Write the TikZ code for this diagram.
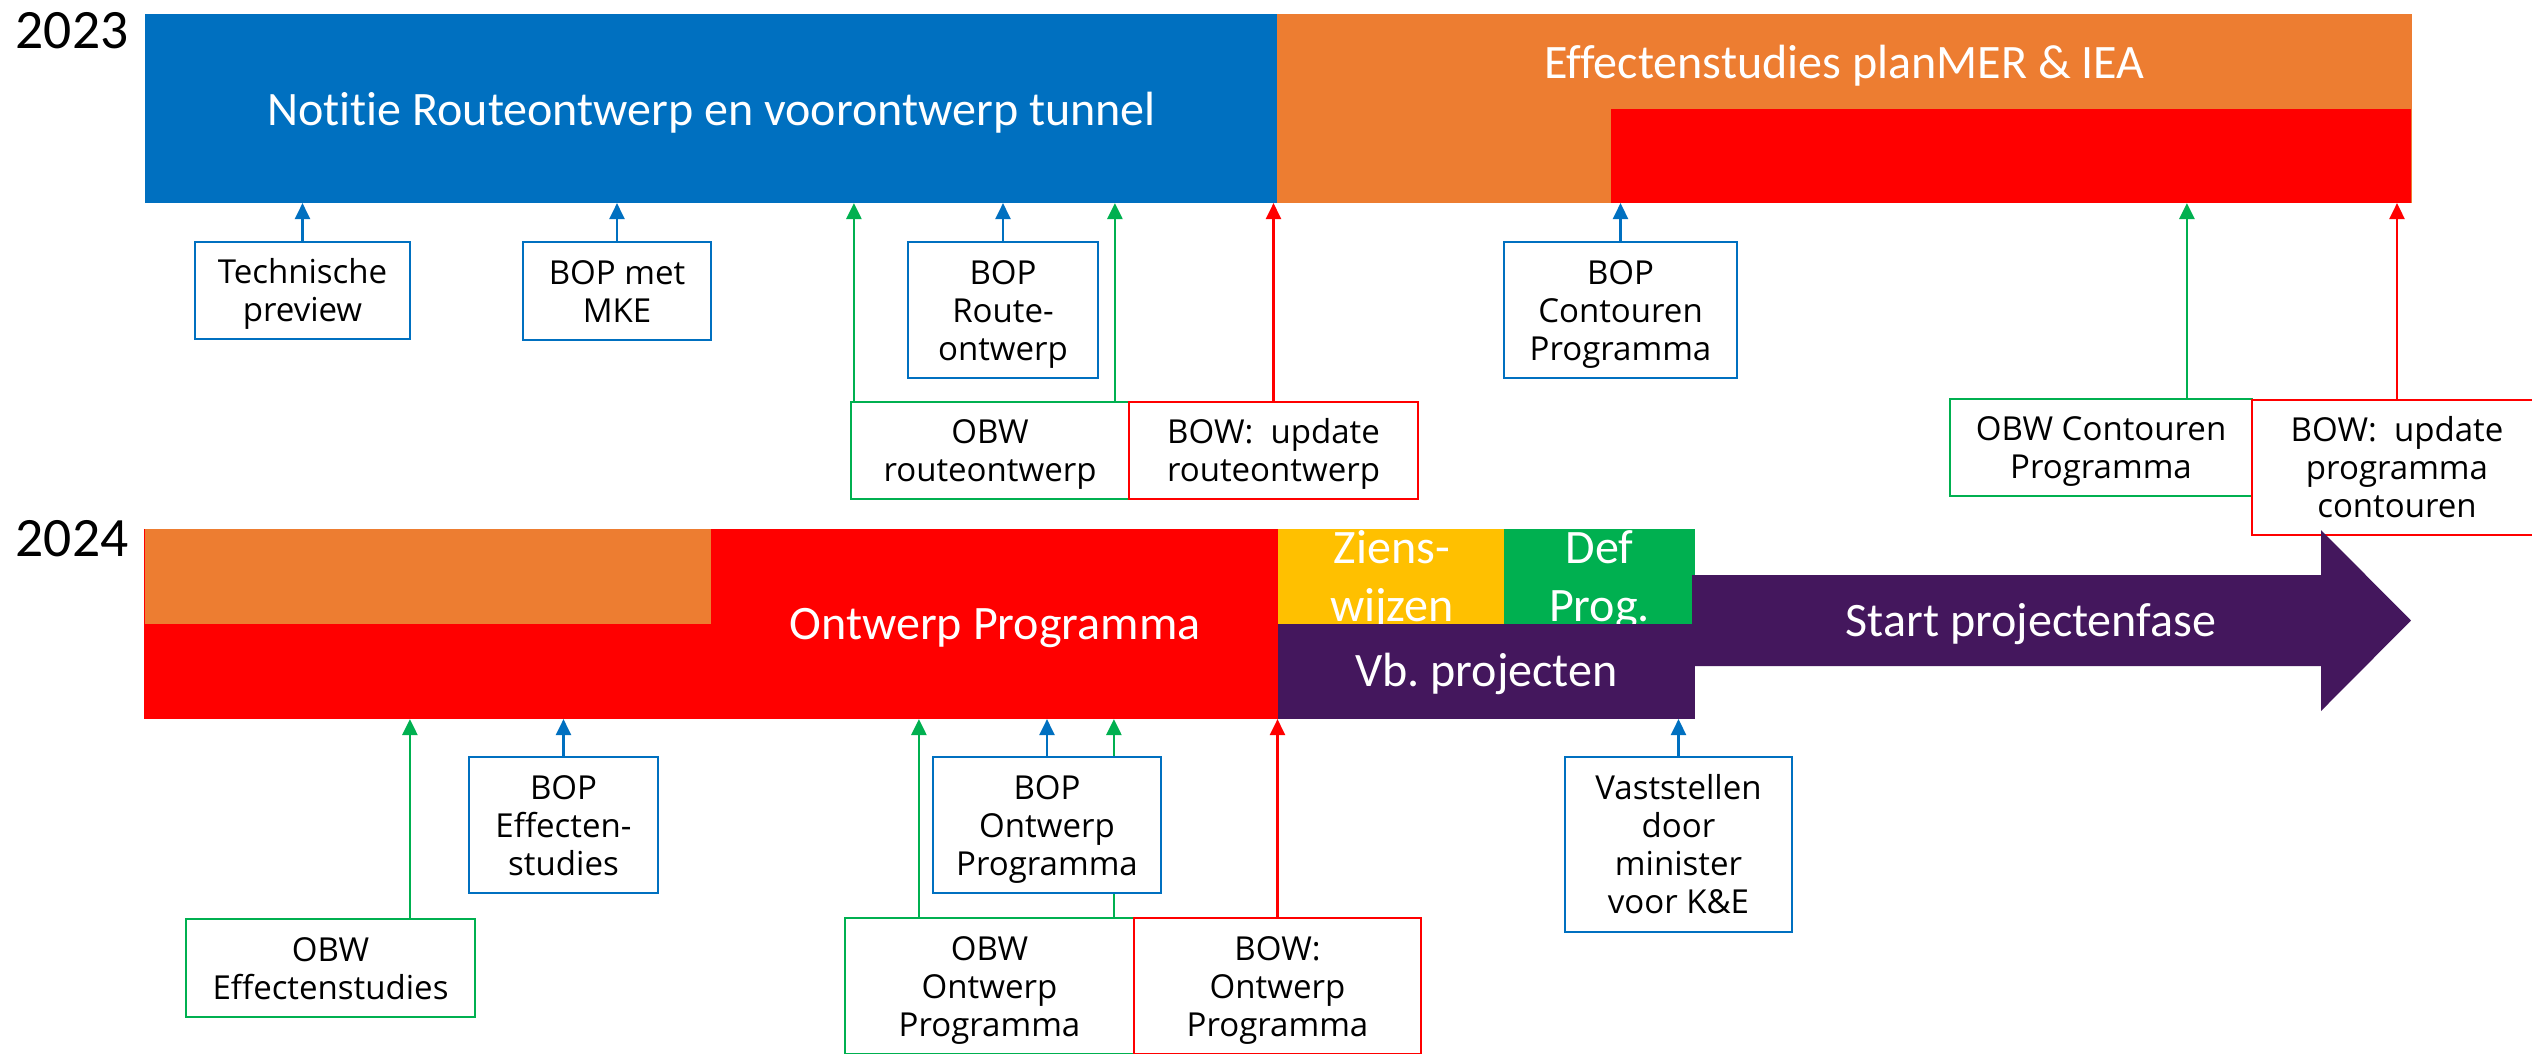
\documentclass[tikz,border=0pt]{standalone}
\usepackage{fontspec}
\setmainfont{Open Sans}
\newfontfamily\barfont{Carlito}[Ligatures=NoCommon]
\newfontfamily\boxfont{Open Sans}[Ligatures=NoCommon]
\usetikzlibrary{arrows.meta,calc}
\definecolor{cblue}{HTML}{0070C0}
\definecolor{corange}{HTML}{ED7D31}
\definecolor{cred}{HTML}{FF0000}
\definecolor{cyellow}{HTML}{FFC000}
\definecolor{cgreen}{HTML}{00B050}
\definecolor{cpurple}{HTML}{44175D}
\newcommand\boxfnt{\boxfont\fontsize{9.39pt}{10.81pt}\selectfont}
\newcommand\barfnt{\barfont\fontsize{13.66pt}{16.67pt}\selectfont}
\newcommand\yearfnt{\barfont\fontsize{15.8pt}{18pt}\selectfont}
\newcommand\ftop{\vrule height 0.32cm depth 0pt width 0pt\relax}
\newcommand\lbot{\vrule height 0pt depth 0.08cm width 0pt\relax}
\frenchspacing
\pgfdeclarelayer{paper}
\pgfdeclarelayer{links}
\pgfsetlayers{paper,links,main}
\begin{document}
\begin{tikzpicture}[x=0.01cm,y=-0.01cm,
  bar/.style={draw=none,inner sep=0pt,outer sep=0pt},
  bartext/.style={font=\barfnt,text=white,inner sep=0pt,anchor=base},
  year/.style={font=\yearfnt,text=black,inner sep=0pt,anchor=base west},
  box/.style={draw,fill=white,line width=0.025cm,align=center,font=\boxfnt,text=black,inner sep=0pt,outer sep=0pt},
  bluebox/.style={box,draw=cblue},
  greenbox/.style={box,draw=cgreen},
  redbox/.style={box,draw=cred},
  link/.style={line width=0.025cm,-{Triangle[length=0.16cm,width=0.15cm]}},
]
\useasboundingbox (0,0) rectangle (2532,1053);
\begin{pgfonlayer}{paper}
\fill[white] (0,0) rectangle (2532,1053);
\end{pgfonlayer}
\clip (0,0) rectangle (2532,1053);

% ---- 2023 bar ----
\node[bar,fill=cblue,minimum width=11.33cm,minimum height=1.89cm] (b1blue) at (711.5,108.5) {};
\node[bar,fill=corange,minimum width=11.35cm,minimum height=1.89cm] (b1orange) at (1844.5,108.5) {};
\node[bar,fill=cred,minimum width=8cm,minimum height=0.94cm] (b1red) at (2011,156) {};
\node[bartext] (t1a) at (711.5,125) {Notitie Routeontwerp en voorontwerp tunnel};
\node[bartext] (t1b) at (1844.5,78) {Effectenstudies planMER \& IEA};

% ---- 2024 bar ----
\node[bar,fill=cred,minimum width=11.36cm,minimum height=1.9cm] (b2red) at (712,624) {};
\node[bar,fill=corange,minimum width=5.66cm,minimum height=0.95cm] (b2orange) at (428,576.5) {};
\node[bartext] (t2a) at (995,639) {Ontwerp Programma};
\node[bar,fill=cyellow,minimum width=2.27cm,minimum height=0.95cm] (b2yellow) at (1392,576.5) {};
\node[bar,fill=cgreen,minimum width=1.9cm,minimum height=0.95cm] (b2green) at (1599.5,576.5) {};
\node[bartext] (t2z1) at (1392,563) {Ziens-};
\node[bartext] (t2z2) at (1392,621.6) {wijzen};
\node[bartext] (t2d1) at (1599.5,563) {Def};
\node[bartext] (t2d2) at (1599.5,621.6) {Prog.};
\node[bar,fill=cpurple,minimum width=4.16cm,minimum height=0.95cm] (b2purple) at (1486.5,671.5) {};
\node[bartext] (t2vb) at (1486.5,686) {Vb. projecten};

% ---- 2023 callouts ----
\node[bluebox,minimum width=2.15cm,minimum height=0.97cm] (tp) at (302.5,290.5) {\ftop Technische\\preview\lbot};
\node[bluebox,minimum width=1.88cm,minimum height=0.98cm] (mke) at (617,291) {\ftop BOP met\\MKE\lbot};
\node[bluebox,minimum width=1.90cm,minimum height=1.36cm] (bopr) at (1003,310) {\ftop BOP\\Route-\\ontwerp\lbot};
\node[greenbox,minimum width=2.78cm,minimum height=0.97cm] (obwr) at (990,450.5) {\ftop OBW\\routeontwerp\lbot};
\node[redbox,minimum width=2.89cm,minimum height=0.97cm] (bowr) at (1273.5,450.5) {\ftop BOW:\ \ update\\routeontwerp\lbot};
\node[bluebox,minimum width=2.33cm,minimum height=1.36cm] (bopc) at (1620.5,310) {\ftop BOP\\Contouren\\Programma\lbot};
\node[greenbox,minimum width=3.02cm,minimum height=0.97cm] (obwc) at (2101,447.5) {\ftop OBW Contouren\\Programma\lbot};
\node[redbox,minimum width=2.90cm,minimum height=1.35cm] (bowc) at (2397,467.5) {\ftop BOW:\ \ update\\programma\\contouren\lbot};

% ---- 2024 callouts ----
\node[greenbox,minimum width=2.89cm,minimum height=0.98cm] (obwe) at (330.5,968) {\ftop OBW\\Effectenstudies\lbot};
\node[bluebox,minimum width=1.89cm,minimum height=1.36cm] (bope) at (563.5,825) {\ftop BOP\\Effecten-\\studies\lbot};
\node[greenbox,minimum width=2.89cm,minimum height=1.36cm] (obwo) at (989.5,986) {\ftop OBW\\Ontwerp\\Programma\lbot};
\node[bluebox,minimum width=2.28cm,minimum height=1.36cm] (bopo) at (1047,825) {\ftop BOP\\Ontwerp\\Programma\lbot};
\node[redbox,minimum width=2.87cm,minimum height=1.36cm] (bowo) at (1277.5,986) {\ftop BOW:\\Ontwerp\\Programma\lbot};
\node[bluebox,minimum width=2.27cm,minimum height=1.75cm] (vast) at (1678.5,844.5) {\ftop Vaststellen\\door\\minister\\voor K\&E\lbot};

% ---- connector start points ----
\coordinate (obwrL) at ($(obwr.north west)+(3,0)$);
\coordinate (obwrR) at ($(obwr.north west)+(264,0)$);
\coordinate (obwcA) at ($(obwc.north west)+(237,0)$);
\coordinate (obweA) at ($(obwe.north west)+(224,0)$);
\coordinate (obwoL) at ($(obwo.north west)+(74,0)$);
\coordinate (obwoR) at ($(obwo.north west)+(269,0)$);

\begin{pgfonlayer}{links}
\draw[link,cblue] (tp.north) -- (tp.north |- b1blue.south);
\draw[link,cblue] (mke.north) -- (mke.north |- b1blue.south);
\draw[link,cblue] (bopr.north) -- (bopr.north |- b1blue.south);
\draw[link,cgreen] (obwrL) -- (obwrL |- b1blue.south);
\draw[link,cgreen] (obwrR) -- (obwrR |- b1blue.south);
\draw[link,cred] (bowr.north) -- (bowr.north |- b1blue.south);
\draw[link,cblue] (bopc.north) -- (bopc.north |- b1red.south);
\draw[link,cgreen] (obwcA) -- (obwcA |- b1red.south);
\draw[link,cred] (bowc.north) -- (bowc.north |- b1red.south);
\draw[link,cgreen] (obweA) -- (obweA |- b2red.south);
\draw[link,cblue] (bope.north) -- (bope.north |- b2red.south);
\draw[link,cgreen] (obwoL) -- (obwoL |- b2red.south);
\draw[link,cblue] (bopo.north) -- (bopo.north |- b2red.south);
\draw[link,cgreen] (obwoR) -- (obwoR |- b2red.south);
\draw[link,cred] (bowo.north) -- (bowo.north |- b2red.south);
\draw[link,cblue] (vast.north) -- (vast.north |- b2purple.south);
\end{pgfonlayer}

% ---- purple arrow ----
\fill[cpurple] (1692,575) -- (2321,575) -- (2321,530) -- (2411,620.5) -- (2321,711) -- (2321,666) -- (1692,666) -- cycle;
\node[bartext] (t2start) at (2031,636) {Start projectenfase};

% ---- years ----
\node[year] (y2023) at (15,48) {2023};
\node[year] (y2024) at (15,556) {2024};
\end{tikzpicture}
\end{document}
